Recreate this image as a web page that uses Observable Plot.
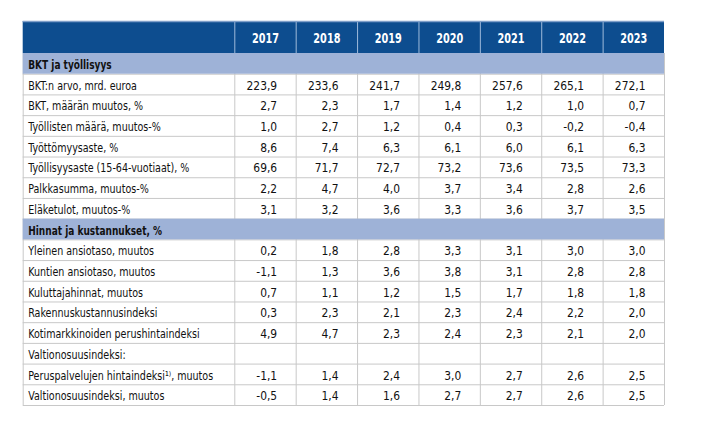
<!DOCTYPE html>
<html><head><meta charset="utf-8">
<script src="https://cdn.jsdelivr.net/npm/d3@7"></script>
<script src="https://cdn.jsdelivr.net/npm/@observablehq/plot@0.6"></script>
<style>body{margin:0;background:#fff}</style>
</head><body><div id="chart"></div>
<script>
const years = ["2017","2018","2019","2020","2021","2022","2023"];

const bktArvo          = [223.9, 233.6, 241.7, 249.8, 257.6, 265.1, 272.1];
const bktMuutos        = [2.7, 2.3, 1.7, 1.4, 1.2, 1.0, 0.7];
const tyollistenMaara  = [1.0, 2.7, 1.2, 0.4, 0.3, -0.2, -0.4];
const tyottomyysaste   = [8.6, 7.4, 6.3, 6.1, 6.0, 6.1, 6.3];
const tyollisyysaste   = [69.6, 71.7, 72.7, 73.2, 73.6, 73.5, 73.3];
const palkkasumma      = [2.2, 4.7, 4.0, 3.7, 3.4, 2.8, 2.6];
const elaketulot       = [3.1, 3.2, 3.6, 3.3, 3.6, 3.7, 3.5];
const yleinenAnsiotaso = [0.2, 1.8, 2.8, 3.3, 3.1, 3.0, 3.0];
const kuntienAnsiotaso = [-1.1, 1.3, 3.6, 3.8, 3.1, 2.8, 2.8];
const kuluttajahinnat  = [0.7, 1.1, 1.2, 1.5, 1.7, 1.8, 1.8];
const rakennuskust     = [0.3, 2.3, 2.1, 2.3, 2.4, 2.2, 2.0];
const kotimarkkinoiden = [4.9, 4.7, 2.3, 2.4, 2.3, 2.1, 2.0];
const peruspalvelujen  = [-1.1, 1.4, 2.4, 3.0, 2.7, 2.6, 2.5];
const valtionosuus     = [-0.5, 1.4, 1.6, 2.7, 2.7, 2.6, 2.5];

const rowLabels = [
  "BKT ja työllisyys",
  "BKT:n arvo, mrd. euroa",
  "BKT, määrän muutos, %",
  "Työllisten määrä, muutos-%",
  "Työttömyysaste, %",
  "Työllisyysaste (15-64-vuotiaat), %",
  "Palkkasumma, muutos-%",
  "Eläketulot, muutos-%",
  "Hinnat ja kustannukset, %",
  "Yleinen ansiotaso, muutos",
  "Kuntien ansiotaso, muutos",
  "Kuluttajahinnat, muutos",
  "Rakennuskustannusindeksi",
  "Kotimarkkinoiden perushintaindeksi",
  "Valtionosuusindeksi:",
  "Peruspalvelujen hintaindeksi\u00B9\u207E, muutos",
  "Valtionosuusindeksi, muutos"
];
const rowValues = [
  null, bktArvo, bktMuutos, tyollistenMaara, tyottomyysaste, tyollisyysaste,
  palkkasumma, elaketulot, null, yleinenAnsiotaso, kuntienAnsiotaso,
  kuluttajahinnat, rakennuskust, kotimarkkinoiden, [], peruspalvelujen, valtionosuus
];

const rows = rowLabels.map((label, i) => ({
  i, label, kind: rowValues[i] === null ? "section" : "data", values: rowValues[i] || []
}));
const cells = rows.flatMap(r => r.values.map((v, j) => ({i: r.i, j, v})));
const fmt = v => v.toFixed(1).replace(".", ",");

const LABEL_W = 3.447;
const HEADER_H = 1.546;
const nRows = rows.length;
const nCols = years.length;
const font = "'DejaVu Sans Condensed', 'Liberation Sans Narrow', sans-serif";
const boundaries = [-LABEL_W, ...d3.range(0, nCols + 1)];

const chart = Plot.plot({
  width: 717,
  height: 432,
  marginTop: 21,
  marginBottom: 27,
  marginLeft: 22.7,
  marginRight: 53,
  x: {domain: [-LABEL_W, nCols], axis: null},
  y: {domain: [-HEADER_H, nRows], reverse: true, axis: null},
  style: {fontFamily: font, fontSize: "13px", background: "#fff"},
  marks: [
    Plot.rect([0], {x1: -LABEL_W, x2: nCols, y1: -HEADER_H, y2: 0, fill: "#0d4d8f"}),
    Plot.ruleX(d3.range(0, nCols), {x: d => d, y1: -HEADER_H, y2: 0, stroke: "#9fbadb", strokeWidth: 1}),
    Plot.ruleY([-HEADER_H], {x1: -LABEL_W, x2: nCols, stroke: "#7f9fc9", strokeWidth: 1.5}),
    Plot.ruleX(boundaries, {x: d => d, y1: 0, y2: nRows, stroke: "#c8c8c8", strokeWidth: 1}),
    Plot.ruleY(d3.range(1, nRows + 1), {y: d => d, x1: -LABEL_W, x2: nCols, stroke: "#c8c8c8", strokeWidth: 1}),
    Plot.rect(rows.filter(r => r.kind === "section"), {
      x1: -LABEL_W, x2: nCols, y1: d => d.i, y2: d => d.i + 1, fill: "#9eb2d7"
    }),
    // header text
    Plot.text(years, {
      x: (d, j) => j + 0.5, y: -HEADER_H / 2, text: d => d,
      fill: "#fff", fontWeight: "bold", fontSize: 13.5, fontFamily: font, dy: 1
    }),
    // data row labels
    Plot.text(rows.filter(r => r.kind !== "section"), {
      x: -LABEL_W, y: d => d.i + 0.5, text: "label", textAnchor: "start", dx: 5, dy: 1,
      fill: "#111", fontSize: 12.8, fontFamily: font
    }),
    // section labels
    Plot.text(rows.filter(r => r.kind === "section"), {
      x: -LABEL_W, y: d => d.i + 0.5, text: "label", textAnchor: "start", dx: 5, dy: 1,
      fill: "#111", fontWeight: "bold", fontSize: 13, fontFamily: font
    }),
    // values
    Plot.text(cells, {
      x: d => d.j + 1, y: d => d.i + 0.5, text: d => fmt(d.v), textAnchor: "end",
      dx: -19, dy: 1, fill: "#111", fontSize: 12.8, fontFamily: font
    })
  ]
});

// condense glyphs horizontally (the original uses a condensed typeface)
const squeeze = [0.8, 0.83, 0.77, 0.93];
d3.select(chart).selectAll('g[aria-label="text"]').each(function(_, k) {
  const s = squeeze[k] ?? 1;
  d3.select(this).selectAll("text").attr("transform", function() {
    return (this.getAttribute("transform") || "") + ` scale(${s},1)`;
  });
});
document.getElementById("chart").append(chart);
</script>
</body></html>
